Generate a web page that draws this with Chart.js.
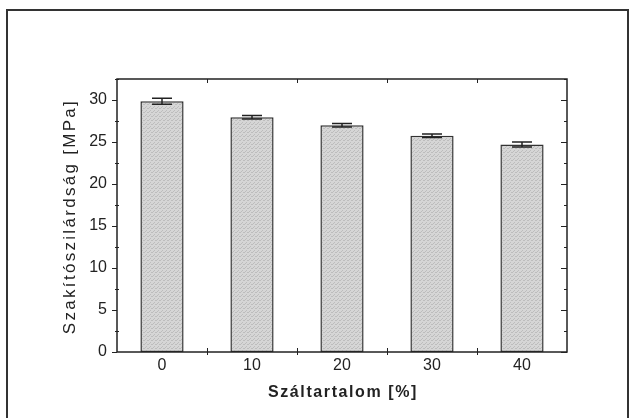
<!DOCTYPE html>
<html><head><meta charset="utf-8">
<script src="https://cdn.jsdelivr.net/npm/chart.js@4"></script>
<style>html,body{margin:0;padding:0;background:#fff;}#wrap{width:630px;height:418px;}</style>
</head><body><div id="wrap"><canvas id="c" width="630" height="418"></canvas></div>
<script>
const categories = ['0', '10', '20', '30', '40'];
const strength = [29.85, 27.95, 27.0, 25.75, 24.7];
const errors = [0.35, 0.2, 0.2, 0.2, 0.3];
const yTicks = [0, 5, 10, 15, 20, 25, 30];
const yTitle = 'Szakítószilárdság [MPa]';
const xTitle = 'Száltartalom [%]';

function makePattern() {
  const p = document.createElement('canvas');
  p.width = 4; p.height = 4;
  const g = p.getContext('2d');
  g.fillStyle = '#d6d6d6'; g.fillRect(0, 0, 4, 4);
  g.fillStyle = '#bdbdbd';
  g.fillRect(0, 0, 1, 1); g.fillRect(2, 2, 1, 1); g.fillRect(3, 0, 1, 1); g.fillRect(1, 3, 1, 1);
  return document.getElementById('c').getContext('2d').createPattern(p, 'repeat');
}

const decor = {
  id: 'decor',
  beforeDraw(chart) {
    const ctx = chart.ctx;
    ctx.save();
    ctx.fillStyle = '#fff';
    ctx.fillRect(0, 0, chart.width, chart.height);
    ctx.strokeStyle = '#333';
    ctx.lineWidth = 2;
    ctx.strokeRect(7, 10, 621, 430);
    ctx.restore();
  },
  afterDatasetsDraw(chart) {
    const ctx = chart.ctx;
    const x = chart.scales.x, y = chart.scales.y;
    const a = chart.chartArea;
    ctx.save();
    // error bars
    ctx.strokeStyle = '#222';
    ctx.lineWidth = 1.5;
    strength.forEach((v, i) => {
      const px = x.getPixelForValue(i);
      const top = y.getPixelForValue(v + errors[i]);
      const bot = y.getPixelForValue(v - errors[i]);
      ctx.beginPath();
      ctx.moveTo(px, top); ctx.lineTo(px, bot);
      ctx.moveTo(px - 10, top); ctx.lineTo(px + 10, top);
      ctx.moveTo(px - 10, bot); ctx.lineTo(px + 10, bot);
      ctx.stroke();
    });
    // axes frame
    ctx.strokeStyle = '#222';
    ctx.lineWidth = 1.5;
    ctx.strokeRect(a.left, a.top, a.right - a.left, a.bottom - a.top);
    // y ticks
    ctx.lineWidth = 1;
    for (let v = 0; v <= 32.5; v += 2.5) {
      const py = Math.round(y.getPixelForValue(v)) + 0.5;
      const major = v % 5 === 0;
      ctx.beginPath();
      if (major) { ctx.moveTo(a.left - 5, py); ctx.lineTo(a.left, py); }
      else { ctx.moveTo(a.left - 2, py); ctx.lineTo(a.left + 2, py); }
      ctx.moveTo(a.right, py); ctx.lineTo(a.right - (major ? 6 : 3), py);
      ctx.stroke();
    }
    // x minor ticks between categories
    for (let i = 0; i < categories.length - 1; i++) {
      const px = Math.round((x.getPixelForValue(i) + x.getPixelForValue(i + 1)) / 2) + 0.5;
      ctx.beginPath();
      ctx.moveTo(px, a.bottom - 4); ctx.lineTo(px, a.bottom + 3);
      ctx.moveTo(px, a.top); ctx.lineTo(px, a.top + 4);
      ctx.stroke();
    }
    // titles
    ctx.fillStyle = '#222';
    ctx.font = 'bold 16px "Liberation Sans", Arial, sans-serif';
    ctx.textAlign = 'center';
    ctx.textBaseline = 'middle';
    ctx.letterSpacing = '1.6px';
    ctx.fillText(xTitle, (a.left + a.right) / 2 + 1, 393);
    ctx.letterSpacing = '2.3px';
    ctx.font = '17px "Liberation Sans", Arial, sans-serif';
    ctx.translate(70, (a.top + a.bottom) / 2 + 1);
    ctx.rotate(-Math.PI / 2);
    ctx.fillText(yTitle, 0, 0);
    ctx.restore();
  }
};

Chart.defaults.font.family = '"Liberation Sans", Arial, sans-serif';
Chart.defaults.color = '#222';

new Chart(document.getElementById('c'), {
  type: 'bar',
  data: {
    labels: categories,
    datasets: [{
      data: strength,
      backgroundColor: makePattern(),
      borderColor: '#333',
      borderWidth: 1.5,
      borderSkipped: false,
      barPercentage: 0.48,
      categoryPercentage: 1.0
    }]
  },
  options: {
    responsive: false,
    animation: false,
    devicePixelRatio: 1,
    layout: { padding: 0 },
    plugins: { legend: { display: false }, tooltip: { enabled: false } },
    scales: {
      x: {
        type: 'category',
        offset: true,
        grid: { display: false, drawTicks: false },
        border: { display: false },
        ticks: { font: { size: 16 }, padding: 4, maxRotation: 0 },
        afterFit(s) { s.height = 66; }
      },
      xTop: {
        type: 'category',
        position: 'top',
        labels: categories,
        offset: true,
        grid: { display: false, drawTicks: false },
        border: { display: false },
        ticks: { display: false },
        afterFit(s) { s.height = 79; }
      },
      y: {
        min: 0, max: 32.5,
        grid: { display: false, drawTicks: false },
        border: { display: false },
        ticks: { font: { size: 16 }, padding: 10 },
        afterBuildTicks(s) { s.ticks = yTicks.map(v => ({ value: v })); },
        afterFit(s) { s.width = 117; }
      },
      yRight: {
        position: 'right',
        min: 0, max: 32.5,
        grid: { display: false, drawTicks: false },
        border: { display: false },
        ticks: { display: false },
        afterFit(s) { s.width = 63; }
      }
    }
  },
  plugins: [decor]
});
</script>
</body></html>
